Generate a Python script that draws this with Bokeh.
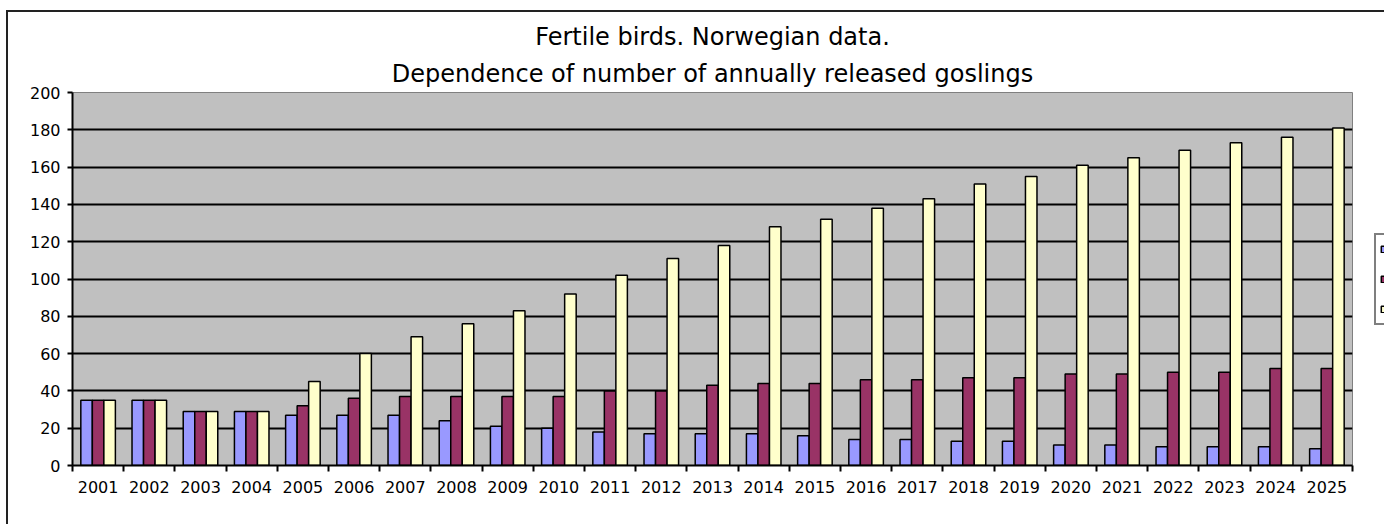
from bokeh.plotting import figure
from bokeh.layouts import row
from bokeh.models import ColumnDataSource, FixedTicker, Legend, LegendItem, Title
from bokeh.core.properties import value
from bokeh.transform import dodge
from bokeh.embed import file_html
from bokeh.resources import INLINE

years = [str(y) for y in range(2001, 2026)]
blue = [35, 35, 29, 29, 27, 27, 27, 24, 21, 20, 18, 17, 17, 17, 16, 14, 14, 13, 13, 11, 11, 10, 10, 10, 9]
maroon = [35, 35, 29, 29, 32, 36, 37, 37, 37, 37, 40, 40, 43, 44, 44, 46, 46, 47, 47, 49, 49, 50, 50, 52, 52]
yellow = [35, 35, 29, 29, 45, 60, 69, 76, 83, 92, 102, 111, 118, 128, 132, 138, 143, 151, 155, 161, 165, 169, 173, 176, 181]
y_ticks = list(range(0, 201, 20))
colors = ["#9999FF", "#993366", "#FFFFCC"]

pos = list(range(1, len(years) + 1))
src = ColumnDataSource(dict(x=pos, blue=blue, maroon=maroon, yellow=yellow))

FONT = "DejaVu Sans"

p = figure(width=1364, height=512, x_range=(0.5, len(years) + 0.5), y_range=(0, 200),
           output_backend="svg", toolbar_location=None,
           min_border_left=64, min_border_right=20, min_border_top=80, min_border_bottom=59)

p.background_fill_color = "#C0C0C0"
p.border_fill_color = "white"
p.outline_line_color = "#808080"
p.outline_line_width = 1

w = 0.225
for off, col, c in zip([-w, 0, w], ["blue", "maroon", "yellow"], colors):
    p.vbar(x=dodge("x", off, range=p.x_range), top=col, width=w, source=src,
           fill_color=c, line_color="black", line_width=1.5)

# x axis: labels at category centres, ticks at category boundaries
p.xaxis.ticker = FixedTicker(ticks=pos, minor_ticks=[i + 0.5 for i in range(len(years) + 1)])
p.xaxis.major_label_overrides = {i: y for i, y in zip(pos, years)}
p.xaxis.major_tick_out = 0
p.xaxis.major_tick_in = 0
p.xaxis.minor_tick_out = 6
p.xaxis.minor_tick_in = 0
p.xaxis.minor_tick_line_color = "black"
p.xaxis.minor_tick_line_width = 2
p.xaxis.axis_line_color = "black"
p.xaxis.axis_line_width = 2
p.xaxis.major_label_text_font = FONT
p.xaxis.major_label_text_font_size = "16px"
p.xaxis.major_label_text_color = "black"
p.xaxis.major_label_standoff = 9

p.yaxis.ticker = FixedTicker(ticks=y_ticks, minor_ticks=[])
p.yaxis.major_tick_out = 5
p.yaxis.major_tick_in = 0
p.yaxis.major_tick_line_color = "black"
p.yaxis.major_tick_line_width = 2
p.yaxis.axis_line_color = "black"
p.yaxis.axis_line_width = 2
p.yaxis.major_label_text_font = FONT
p.yaxis.major_label_text_font_size = "16px"
p.yaxis.major_label_text_color = "black"
p.yaxis.major_label_standoff = 7

p.xgrid.grid_line_color = None
p.ygrid.ticker = FixedTicker(ticks=y_ticks[1:-1])
p.ygrid.grid_line_color = "black"
p.ygrid.grid_line_width = 2

p.add_layout(Title(text="Dependence of number of annually released goslings", align="center",
                   text_font=FONT, text_font_size="24px", text_font_style="normal",
                   text_color="black", standoff=10), "above")
p.add_layout(Title(text="Fertile birds. Norwegian data.", align="center",
                   text_font=FONT, text_font_size="24px", text_font_style="normal",
                   text_color="black", standoff=3), "above")

# legend strip at the right edge (only its left part is visible, as in the reference)
p2 = figure(width=12, height=512, x_range=(0, 1), y_range=(0, 1),
            output_backend="svg", toolbar_location=None,
            x_axis_type=None, y_axis_type=None,
            min_border_left=0, min_border_right=0, min_border_top=0, min_border_bottom=0)
p2.outline_line_color = None
p2.background_fill_color = "white"
p2.border_fill_color = "white"
p2.grid.grid_line_color = None
leg_renderers = [p2.vbar(x=[5], top=[0], width=0.1, fill_color=c, line_color="black", line_width=1.5)
                 for c in colors]
legend = Legend(items=[LegendItem(label=value(""), renderers=[r]) for r in leg_renderers],
                location=(2, 140), padding=4, spacing=10, margin=0,
                glyph_width=8, glyph_height=8, label_height=20, label_width=20,
                label_text_font=FONT, label_text_font_size="15px",
                border_line_color="black", border_line_width=2,
                background_fill_color="white", background_fill_alpha=1)
p2.add_layout(legend, "center")

layout = row(p, p2, spacing=0)
layout.margin = (10, 0, 0, 6)
layout.styles = {"border-top": "2px solid #222", "border-left": "2px solid #222"}

open("out.html", "w").write(file_html(layout, INLINE))
